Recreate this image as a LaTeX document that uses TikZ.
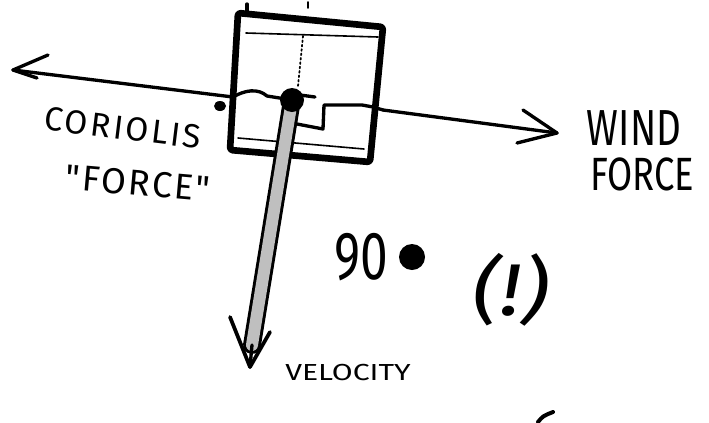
\documentclass[tikz,border=0pt]{standalone}
\usepackage{fontspec}
\newfontfamily\hand{Fira Sans}
\begin{document}
\begin{tikzpicture}[x=0.75pt,y=-0.75pt,line cap=round,line join=round,
  ink/.style={draw=black,line width=2.5pt},
  thinink/.style={draw=black,line width=1.2pt},
  boxink/.style={draw=black,line width=5pt,rounded corners=2pt},
  lbl/.style={font=\hand,inner sep=0pt,anchor=center,text=black}]
\useasboundingbox (0,0) rectangle (709,422);

% frame of the box
\draw[boxink] (238,13) -- (383,27) -- (370,162) -- (230,150) -- cycle;
\draw[thinink] (246,33) -- (378,37);
\draw[thinink] (238,138) -- (364,149);
\draw[ink] (247,4) -- (247,13);
\draw[ink,line width=1.2pt] (308,2) -- (308,8);
\draw[line width=1.3pt,dotted] (303,36) -- (298,86);

% coordinates
\coordinate (hub) at (292,100);
\coordinate (corEnd) at (13,70);
\coordinate (windEnd) at (557,133);
\coordinate (velEnd) at (250,367);
\coordinate (boxL) at (233,97);
\coordinate (boxR) at (383,110);

% coriolis arrow
\draw[ink] (boxL) -- (corEnd);
\draw[ink] (corEnd) -- ++(35,-15);
\draw[ink] (corEnd) -- ++(24,8);
\draw[ink] (boxL) .. controls (245,90) and (258,88) .. (267,96) -- (hub);
\fill (220,106) ellipse (6 and 5);

% wind arrow
\draw[ink] (boxR) -- (windEnd);
\draw[ink] (windEnd) -- ++(-34,-23);
\draw[ink] (windEnd) -- ++(-40,10);
\draw[ink] (300,95) -- (315,97);
\draw[ink] (297,124) -- (323,129) -- (324,105) -- (362,105) -- (373,107) -- (boxR);

% velocity arrow
\draw[draw=black,line width=2.2pt,double=black!25,double distance=9pt] (hub) -- (252,345);
\draw[ink] (velEnd) -- (252,345);
\draw[ink,line width=2.8pt] (velEnd) -- (230,317);
\draw[ink,line width=2.8pt] (velEnd) -- (270,332);
\fill (hub) circle (12);

% labels
\node[lbl,rotate=-7] (coriolis) at (123,128) {\fontsize{25}{25}\selectfont\addfontfeature{LetterSpace=8}CORIOLIS};
\node[lbl,rotate=-5] (force1) at (138,183) {\fontsize{27}{27}\selectfont\addfontfeature{LetterSpace=6}"FORCE"};
\node[lbl] (wind) at (634,128) {\fontsize{38}{38}\selectfont\scalebox{0.76}[1]{WIND}};
\node[lbl] (force2) at (642,174) {\fontsize{35}{35}\selectfont\scalebox{0.78}[1]{FORCE}};
\node[lbl] (ninety) at (361,257) {\fontsize{51}{51}\selectfont\scalebox{0.73}[1]{90}};
\fill (412,257) circle (13);
\node[lbl] (excl) at (511,290) {\fontsize{55}{55}\selectfont\itshape\scalebox{1.2}[1]{(!)}};
\node[lbl] (velocity) at (348,372) {\fontsize{17.4}{17.4}\selectfont\scalebox{1.3}[1]{VELOCITY}};

% stray stroke at the bottom edge
\draw[ink,line width=3pt] (538,422) .. controls (543,416) .. (553,412);
\end{tikzpicture}
\end{document}
